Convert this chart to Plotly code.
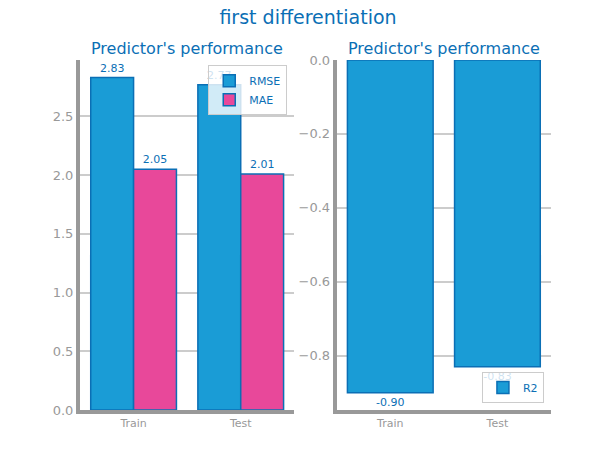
import plotly.graph_objects as go
from plotly.subplots import make_subplots

# dados
sets = ['Train', 'Test']
rmse = [2.83, 2.77]
mae = [2.05, 2.01]
r2 = [-0.90, -0.83]

blue = '#1a9cd6'
edge = '#0b6fb5'
pink = '#e8489a'

fig = make_subplots(rows=1, cols=2, horizontal_spacing=0.09,
                    subplot_titles=("Predictor's performance", "Predictor's performance"))

fig.add_trace(go.Bar(x=sets, y=rmse, name='RMSE', text=[f'{v:.2f}' for v in rmse],
                     textposition='outside', marker=dict(color=blue, line=dict(color=edge, width=1.5)),
                     legend='legend'), row=1, col=1)
fig.add_trace(go.Bar(x=sets, y=mae, name='MAE', text=[f'{v:.2f}' for v in mae],
                     textposition='outside', marker=dict(color=pink, line=dict(color=edge, width=1.5)),
                     legend='legend'), row=1, col=1)
fig.add_trace(go.Bar(x=sets, y=r2, name='R2', text=[f'{v:.2f}' for v in r2],
                     textposition='outside', marker=dict(color=blue, line=dict(color=edge, width=1.5)),
                     legend='legend2'), row=1, col=2)

fig.update_traces(textfont=dict(color=edge, size=11), cliponaxis=False)

fig.update_layout(
    width=600, height=450, template='plotly_white',
    margin=dict(l=72, r=57, t=52, b=48),
    bargap=0.2, barmode='group',
    title=dict(text='first differentiation', x=0.5, xanchor='center', y=0.995, yanchor='top',
               font=dict(size=19, color=edge)),
    font=dict(family='DejaVu Sans', color='#999999'),
    legend=dict(x=0.44, y=0.985, xanchor='right', yanchor='top', bgcolor='rgba(255,255,255,0.8)',
                bordercolor='#cccccc', borderwidth=1, font=dict(color=edge, size=11),
                itemwidth=30, tracegroupgap=0),
    legend2=dict(x=0.985, y=0.02, xanchor='right', yanchor='bottom', bgcolor='rgba(255,255,255,0.8)',
                 bordercolor='#cccccc', borderwidth=1, font=dict(color=edge, size=11),
                 itemwidth=30),
)
for a in fig.layout.annotations:
    a.font = dict(size=16, color=edge)

fig.update_xaxes(showline=True, linewidth=4, linecolor='#999999', showgrid=False,
                 tickfont=dict(size=11, color='#999999'))
fig.update_yaxes(showline=True, linewidth=4, linecolor='#999999', showgrid=True,
                 gridcolor='#cccccc', gridwidth=1.5, zeroline=False,
                 tickfont=dict(size=13, color='#999999'))
fig.update_yaxes(range=[0, 2.98], dtick=0.5, tickformat='.1f', row=1, col=1)
fig.update_yaxes(range=[-0.947, 0], dtick=0.2, tickformat='.1f', row=1, col=2)

fig.write_html('out.html')
